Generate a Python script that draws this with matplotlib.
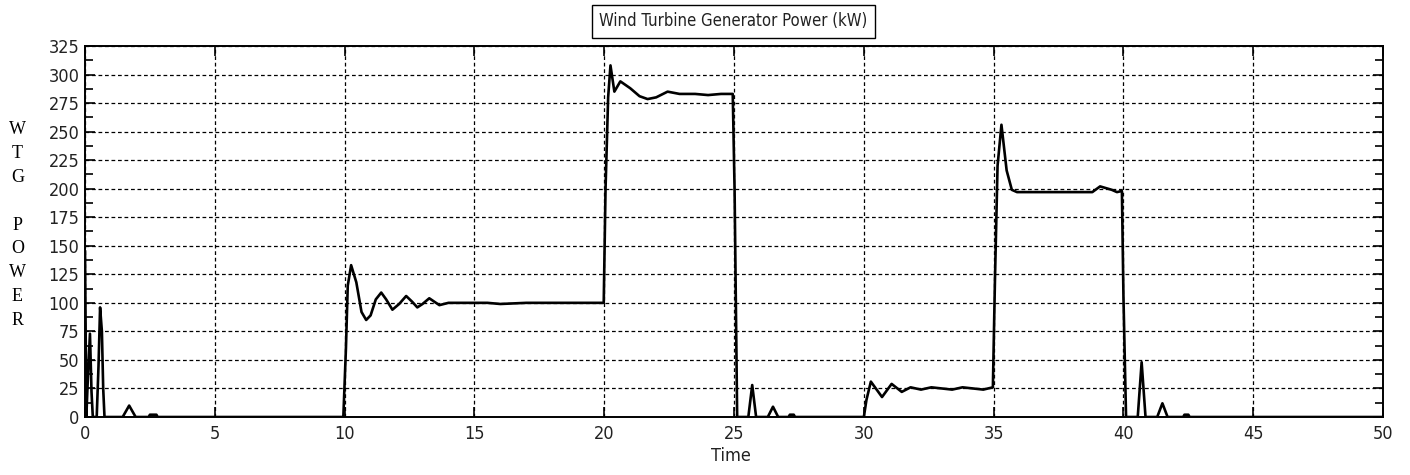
import matplotlib
import matplotlib.pyplot as plt
from matplotlib.ticker import MultipleLocator
from matplotlib import font_manager

matplotlib.use('Agg')

# WTG power (kW)
time = [
    0.0, 0.05, 0.12, 0.19, 0.25, 0.3, 0.45, 0.52, 0.58, 0.65, 0.7, 0.75,
    1.45, 1.7, 1.95, 2.45, 2.5, 2.75, 2.8,
    9.95, 10.05, 10.12, 10.25, 10.45, 10.65, 10.83, 11.0, 11.2, 11.41, 11.6,
    11.84, 12.1, 12.37, 12.6, 12.8, 13.0, 13.26, 13.65, 14.0, 15.5, 16.0,
    17.0, 18.0, 19.0, 19.98,
    20.05, 20.15, 20.24, 20.39, 20.62, 21.0, 21.36, 21.67, 22.0, 22.44, 22.9,
    23.5, 24.0, 24.5, 24.95, 25.02, 25.12,
    25.55, 25.7, 25.85, 26.3, 26.5, 26.7, 27.1, 27.15, 27.3, 27.35,
    30.0, 30.1, 30.27, 30.7, 31.07, 31.46, 31.8, 32.2, 32.6, 33.0, 33.4,
    33.8, 34.2, 34.6, 34.97,
    35.05, 35.15, 35.3, 35.5, 35.7, 35.9, 36.5, 37.5, 38.8, 39.1, 39.55,
    39.75, 39.94, 40.0, 40.05, 40.1,
    40.55, 40.7, 40.85, 41.3, 41.5, 41.7, 42.3, 42.35, 42.5, 42.55, 50.0,
]
power = [
    145, 0, 40, 73, 22, 0, 0, 45, 96, 75, 25, 0,
    0, 10, 0, 0, 2, 2, 0,
    0, 60, 115, 133, 118, 92, 85, 89, 103, 109, 103,
    94, 99, 106, 101, 96, 99, 104, 98, 100, 100, 99,
    100, 100, 100, 100,
    200, 280, 308, 285, 294, 288, 281, 278.5, 280, 285, 283,
    283, 282, 283, 283, 200, 0,
    0, 28, 0, 0, 9, 0, 0, 2, 2, 0,
    0, 15, 31, 17.5, 29, 22, 26, 24, 26, 25, 24,
    26, 25, 24, 26,
    120, 220, 256, 216, 199, 197, 197, 197, 197, 202, 199,
    197, 198, 105, 52, 0,
    0, 48, 0, 0, 12, 0, 0, 2, 2, 0, 0,
]

x_ticks = list(range(0, 51, 5))
y_ticks = list(range(0, 326, 25))

# narrow sans for the MATLAB-style labels
NARROW = font_manager.FontProperties(family='DejaVu Sans', stretch='condensed', size=13)
NARROW_TITLE = font_manager.FontProperties(family='DejaVu Sans', stretch='condensed', size=12)

fig = plt.figure(figsize=(14.1, 4.75), dpi=100)
ax = fig.add_axes([0.0603, 0.1221, 0.9206, 0.7811])

ax.plot(time, power, color='black', lw=1.9, zorder=3)

ax.set_xlim(0, 50)
ax.set_ylim(0, 325)
ax.set_xticks(x_ticks)
ax.set_yticks(y_ticks)
ax.yaxis.set_minor_locator(MultipleLocator(12.5))

ax.grid(True, which='major', color='black', linestyle=(0, (3, 2.2)), lw=0.9)
for s in ax.spines.values():
    s.set_linewidth(1.4)

ax.tick_params(which='both', direction='in', top=True, right=True, width=1.2)
ax.tick_params(which='major', length=7)
ax.tick_params(which='minor', length=6)
ax.tick_params(axis='y', pad=4)
ax.tick_params(axis='x', pad=6)
for lbl in ax.get_xticklabels() + ax.get_yticklabels():
    lbl.set_fontproperties(NARROW)
    lbl.set_color('#222222')

fig.text(0.52, 0.955, 'Wind Turbine Generator Power (kW)', ha='center', va='center',
         fontproperties=NARROW_TITLE, color='#222222',
         bbox=dict(facecolor='white', edgecolor='black', boxstyle='square,pad=0.45', lw=1))

fig.text(731 / 1410, 1 - 456 / 475, 'Time', ha='center', va='center',
         fontproperties=NARROW, color='#222222')

fig.text(17.5 / 1410, 1 - 225 / 475, 'W\nT\nG\n\nP\nO\nW\nE\nR', ha='center', va='center',
         family=['Liberation Serif', 'DejaVu Serif'], fontsize=13, linespacing=1.52)

fig.savefig('out.png', dpi=100)
